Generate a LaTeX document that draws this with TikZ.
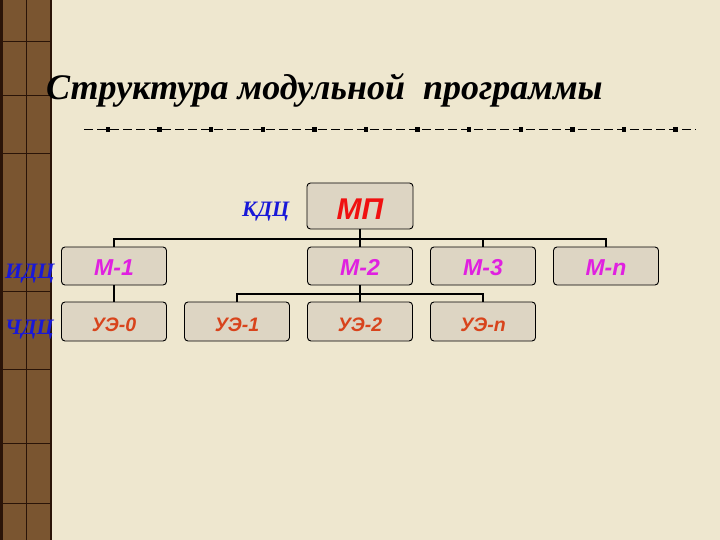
\documentclass[tikz,border=0pt]{standalone}
\usepackage{fontspec}
\setmainfont{Liberation Serif}
\newfontfamily\arialfont{Liberation Sans}
\begin{document}
\begin{tikzpicture}[x=1pt,y=-1pt,
  box/.style={draw=black,line width=0.9pt,fill=boxfill,rounded corners=3.5pt,inner sep=0pt},
  mbox/.style={box,minimum width=105pt,minimum height=38pt},
  link/.style={draw=black,line width=2.3pt},
  lbl/.style={text=lblblue,font=\fontsize{22}{22}\selectfont\bfseries\itshape,inner sep=0pt,anchor=base west},
  mtext/.style={text=mmag,font=\arialfont\fontsize{23}{23}\selectfont\bfseries\itshape,anchor=base,inner sep=0pt},
  utext/.style={text=uered,font=\arialfont\fontsize{19.5}{19.5}\selectfont\bfseries\itshape,anchor=base,inner sep=0pt},
  stripline/.style={draw=stripdark,line width=1pt}]
\definecolor{bg}{HTML}{EEE7CF}
\definecolor{boxfill}{HTML}{DDD5C3}
\definecolor{strip}{HTML}{7A5530}
\definecolor{stripdark}{HTML}{2A1408}
\definecolor{lblblue}{HTML}{1818D8}
\definecolor{mmag}{HTML}{E020E0}
\definecolor{uered}{HTML}{D8441C}
\definecolor{mpred}{HTML}{F01010}
\useasboundingbox (0,0) rectangle (720,540);
\fill[bg] (0,0) rectangle (720,540);
% left strip
\fill[strip] (0,0) rectangle (52,540);
\draw[stripline,line width=2.5pt] (1.5,0) -- (1.5,540);
\draw[stripline,line width=1.5pt] (51,0) -- (51,540);
\draw[stripline] (26,0) -- (26,540);
\foreach \yy in {42,96,154,291,369,443,503} \draw[stripline] (3,\yy) -- (50,\yy);
% title
\node[anchor=base west,inner sep=0pt,font=\fontsize{36}{36}\selectfont\bfseries\itshape] (title) at (46,100) {Структура модульной\ \ программы};
% dashed rule
\coordinate (rs) at (84,129.5);
\coordinate (re) at (696,129.5);
\draw[black,line width=1pt,dash pattern=on 9pt off 4pt] (rs) -- (re);
\foreach \k in {0,...,11} \fill[black] ({108+51.6*\k-2.2},127.3) rectangle ++(4.4,4.4);
% boxes
\node[box,minimum width=106pt,minimum height=46pt] (mp) at (360,206) {};
\node[text=mpred,font=\arialfont\fontsize{30}{30}\selectfont\bfseries\itshape,anchor=base,inner sep=0pt] at (360,220) {МП};
\node[mbox] (m1) at (114,266) {};
\node[mbox] (m2) at (360,266) {};
\node[mbox] (m3) at (483,266) {};
\node[mbox] (mn) at (606,266) {};
\node[mbox,minimum height=39pt] (u0) at (114,321.5) {};
\node[mbox,minimum height=39pt] (u1) at (237,321.5) {};
\node[mbox,minimum height=39pt] (u2) at (360,321.5) {};
\node[mbox,minimum height=39pt] (un) at (483,321.5) {};
\node[mtext] at (114,275) {М-1};
\node[mtext] at (360,275) {М-2};
\node[mtext] at (483,275) {М-3};
\node[mtext] at (606,275) {М-n};
\node[utext] at (114,331) {УЭ-0};
\node[utext] at (237,331) {УЭ-1};
\node[utext] at (360,331) {УЭ-2};
\node[utext] at (483,331) {УЭ-n};
% connectors
\coordinate (j1) at (360,239);
\coordinate (j2) at (360,294);
\draw[link] (mp.south) -- (j1);
\draw[link] (m1.north) |- (mn.north |- j1) -- (mn.north);
\draw[link] (m2.north) -- (j1);
\draw[link] (m3.north) -- (m3.north |- j1);
\draw[link] (m1.south) -- (u0.north);
\draw[link] (m2.south) -- (j2);
\draw[link] (u1.north) |- (un.north |- j2) -- (un.north);
\draw[link] (u2.north) -- (j2);
% side labels
\node[lbl] (kdc) at (242,217) {КДЦ};
\node[lbl] (idc) at (5,278) {ИДЦ};
\node[lbl] (chdc) at (5,334) {ЧДЦ};
\end{tikzpicture}
\end{document}
